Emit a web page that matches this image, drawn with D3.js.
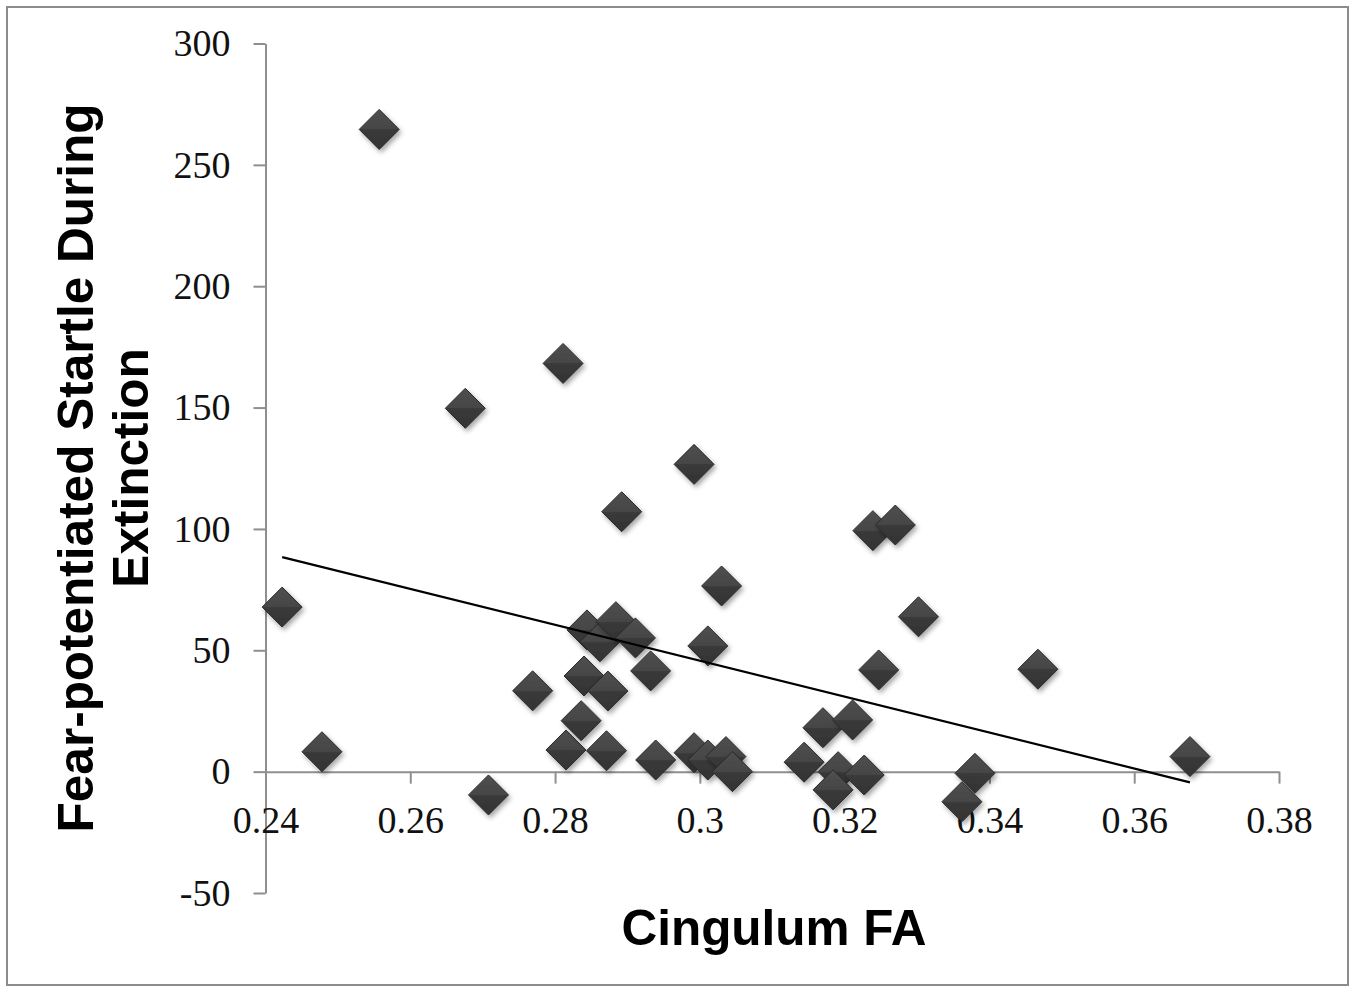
<!DOCTYPE html>
<html>
<head>
    <script src="https://d3js.org/d3.v7.min.js"></script>
    <style>
        body { margin: 0; background: #fff; }
    </style>
</head>
<body>
    <svg width="1355" height="992"></svg>

    <script>
        // Cingulum FA vs. fear-potentiated startle
        const faValues = [0.2557, 0.2423, 0.2478, 0.2676, 0.2708, 0.2811, 0.2769, 0.2815, 0.2836, 0.2840,
                          0.2844, 0.2862, 0.2873, 0.2871, 0.2884, 0.2892, 0.2911, 0.2932, 0.2939, 0.2992,
                          0.2992, 0.3011, 0.3011, 0.3030, 0.3036, 0.3045, 0.3239, 0.3270, 0.3302, 0.3247,
                          0.3467, 0.3170, 0.3211, 0.3144, 0.3191, 0.3184, 0.3227, 0.3380, 0.3362, 0.3677];
        const startleValues = [264.6, 67.8, 8.2, 149.7, -9.6, 168.2, 33.3, 8.9, 21.0, 39.4,
                               58.4, 53.5, 33.2, 8.6, 61.8, 107.1, 55.1, 41.5, 4.8, 126.6,
                               7.8, 51.8, 4.8, 76.5, 6.2, 0, 99.3, 101.6, 63.8, 41.9,
                               42.2, 18.1, 21.3, 3.9, 0, -7.5, -1.4, -0.7, -12.4, 6.2];

        // linear trendline end points
        const trendX = [0.2423, 0.3677];
        const trendY = [88.4, -4.4];

        const xTicks = [0.24, 0.26, 0.28, 0.30, 0.32, 0.34, 0.36, 0.38];
        const xTickLabels = ["0.24", "0.26", "0.28", "0.3", "0.32", "0.34", "0.36", "0.38"];
        const yTicks = [-50, 0, 50, 100, 150, 200, 250, 300];
        const yTickLabels = ["-50", "0", "50", "100", "150", "200", "250", "300"];

        const svg = d3.select("svg");

        const x = d3.scaleLinear().domain([0.24, 0.38]).range([265.5, 1279]);
        const y = d3.scaleLinear().domain([-50, 300]).range([893, 43.5]);

        // outer frame
        svg.append("rect")
            .attr("x", 7).attr("y", 7)
            .attr("width", 1341).attr("height", 978)
            .attr("fill", "none")
            .attr("stroke", "#8c8c8c")
            .attr("stroke-width", 2);

        // marker look: slight bevel + soft shadow
        const defs = svg.append("defs");
        const grad = defs.append("linearGradient")
            .attr("id", "dia").attr("x1", 0).attr("y1", 0).attr("x2", 0).attr("y2", 1);
        grad.append("stop").attr("offset", "0%").attr("stop-color", "#505050");
        grad.append("stop").attr("offset", "50%").attr("stop-color", "#454545");
        grad.append("stop").attr("offset", "50%").attr("stop-color", "#3a3a3a");
        grad.append("stop").attr("offset", "100%").attr("stop-color", "#333");
        const shadow = defs.append("filter").attr("id", "shadow")
            .attr("x", "-50%").attr("y", "-50%").attr("width", "200%").attr("height", "200%");
        shadow.append("feDropShadow")
            .attr("dx", 2).attr("dy", 3).attr("stdDeviation", 2.5)
            .attr("flood-color", "#000").attr("flood-opacity", 0.35);

        const axisColor = "#8f8f8f";
        const tickFont = "'Liberation Serif', 'DejaVu Serif', serif";

        // y axis
        const yAxis = svg.append("g")
            .attr("transform", `translate(${x(0.24)},0)`)
            .call(d3.axisLeft(y).tickValues(yTicks)
                .tickFormat((d, i) => yTickLabels[i])
                .tickSize(12).tickSizeOuter(0).tickPadding(23));

        // x axis sits on y = 0
        const xAxis = svg.append("g")
            .attr("transform", `translate(0,${y(0)})`)
            .call(d3.axisBottom(x).tickValues(xTicks)
                .tickFormat((d, i) => xTickLabels[i])
                .tickSize(12).tickSizeOuter(0).tickPadding(22));

        [yAxis, xAxis].forEach(g => {
            g.select(".domain").attr("stroke", axisColor).attr("stroke-width", 2);
            g.selectAll(".tick line").attr("stroke", axisColor).attr("stroke-width", 2);
            g.selectAll(".tick text")
                .attr("fill", "#111")
                .attr("font-family", tickFont)
                .attr("font-size", "38px");
        });
        // drop the 0.24 tick mark under the y axis
        xAxis.selectAll(".tick").filter(d => d === 0.24).select("line").remove();

        // points
        const points = faValues.map((v, i) => ({ fa: v, fps: startleValues[i] }));
        const r = 20;
        svg.append("g")
            .selectAll("path")
            .data(points)
            .enter()
            .append("path")
            .attr("d", `M0,${-r}L${r},0L0,${r}L${-r},0Z`)
            .attr("transform", d => `translate(${x(d.fa)},${y(d.fps)})`)
            .attr("fill", "url(#dia)")
            .attr("stroke", "#2a2a2a")
            .attr("stroke-width", 1)
            .attr("filter", "url(#shadow)");

        // trendline
        svg.append("line")
            .attr("x1", x(trendX[0])).attr("y1", y(trendY[0]))
            .attr("x2", x(trendX[1])).attr("y2", y(trendY[1]))
            .attr("stroke", "#000")
            .attr("stroke-width", 2.2);

        // axis titles
        svg.append("text")
            .attr("x", 774).attr("y", 945)
            .attr("text-anchor", "middle")
            .attr("font-family", "'Liberation Sans', Arial, sans-serif")
            .attr("font-weight", "bold")
            .attr("font-size", "49.5px")
            .text("Cingulum FA");

        const yTitle = svg.append("text")
            .attr("transform", "translate(93,468) rotate(-90)")
            .attr("text-anchor", "middle")
            .attr("font-family", "'Liberation Sans', Arial, sans-serif")
            .attr("font-weight", "bold")
            .attr("font-size", "49.5px");
        yTitle.append("tspan").attr("x", 0).attr("y", 0).text("Fear-potentiated Startle During");
        yTitle.append("tspan").attr("x", 0).attr("y", 55).text("Extinction");
    </script>
</body>
</html>
